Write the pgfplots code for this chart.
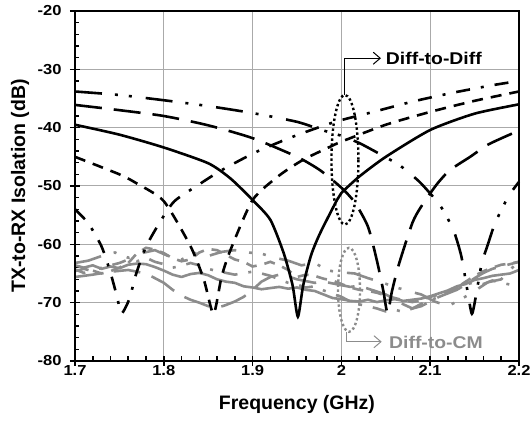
\documentclass[border=0pt]{standalone}
\usepackage{pgfplots}
\pgfplotsset{compat=1.18}
\usepackage{fontspec}
\setmainfont{Liberation Sans}
\newfontfamily\widefont[FakeStretch=1.14]{Liberation Sans}
\usetikzlibrary{arrows.meta}
\definecolor{gcol}{RGB}{140,140,140}
\definecolor{gridc}{RGB}{170,170,170}
\tikzset{
  sdash/.style={dash pattern=on 11pt off 8pt},
  ldash/.style={dash pattern=on 27pt off 12pt},
  ldd/.style={dash pattern=on 14pt off 11pt on 3pt off 11pt},
  lddd/.style={dash pattern=on 27pt off 13pt on 3pt off 11pt on 3pt off 14pt},
  rdot/.style={line width=2.4pt, dash pattern=on 2.4pt off 2.6pt},
}
\begin{document}
\begin{tikzpicture}
\useasboundingbox (0,0) rectangle (531pt,427pt);
\begin{axis}[
  at={(75pt,66pt)}, anchor=south west,
  scale only axis, width=444pt, height=350pt,
  xmin=1.7, xmax=2.2, ymin=-80, ymax=-20,
  xtick={1.7,1.8,1.9,2.0,2.1,2.2},
  xticklabels={1.7,1.8,1.9,2,2.1,2.2},
  ytick={-80,-70,-60,-50,-40,-30,-20},
  yticklabels={-80,-70,-60,-50,-40,-30,-20},
  minor x tick num=4, minor y tick num=4,
  tick pos=left, tick align=inside,
  major tick length=5pt, minor tick length=4.5pt,
  extra x ticks={1.7,1.8,1.9,2.0,2.1,2.2}, extra x tick labels={},
  extra y ticks={-80,-70,-60,-50,-40,-30,-20}, extra y tick labels={},
  extra tick style={grid=none, tick align=outside, major tick length=5pt},
  tick style={black, line width=1.6pt},
  grid=major, major grid style={gridc, line width=1pt},
  axis line style={draw=none},
  tick label style={font=\widefont\fontsize{14.5}{17}\selectfont\bfseries},
  xticklabel style={yshift=-1pt},
  yticklabel style={xshift=-10pt},
  xlabel={Frequency (GHz)}, ylabel={TX-to-RX Isolation (dB)},
  label style={font=\fontsize{19.5}{22}\selectfont\bfseries},
  xlabel style={at={(axis description cs:0.5,-0.14)}, anchor=base},
  ylabel style={at={(axis description cs:-0.1126,0.5)}, anchor=base},
  clip=false,
]
% ---- Diff-to-CM (gray) ----
\addplot[gcol, line width=2.6pt, line join=round] coordinates {
(1.700,-63.6) (1.710,-64.0) (1.720,-63.6) (1.730,-64.2) (1.740,-63.8) (1.750,-64.1)
(1.760,-63.5) (1.770,-63.3) (1.780,-63.4) (1.790,-63.9) (1.800,-64.5) (1.810,-65.2)
(1.820,-65.6) (1.830,-65.1) (1.840,-64.9) (1.850,-65.3) (1.860,-66.0) (1.870,-66.4)
(1.880,-66.6) (1.890,-67.2) (1.900,-67.4) (1.910,-67.7) (1.920,-67.5) (1.930,-67.3)
(1.940,-67.6) (1.950,-67.4) (1.960,-67.8) (1.970,-68.0) (1.980,-68.6) (1.990,-69.2)
(2.000,-69.4) (2.010,-69.7) (2.020,-69.8) (2.030,-69.5) (2.040,-69.9) (2.050,-69.6)
(2.060,-69.4) (2.070,-69.7) (2.080,-69.5) (2.090,-69.3) (2.100,-68.9) (2.110,-68.4)
(2.120,-67.9) (2.130,-67.2) (2.140,-66.8) (2.150,-66.1) (2.160,-65.8) (2.170,-65.4)
(2.180,-65.2) (2.190,-65.0) (2.200,-64.4)};
\addplot[gcol, line width=2.6pt, sdash] coordinates {
(1.700,-64.3) (1.710,-64.9) (1.720,-64.5) (1.730,-65.0) (1.740,-64.6) (1.750,-64.0)
(1.760,-63.2) (1.770,-61.5) (1.780,-60.6) (1.790,-60.9) (1.800,-61.5) (1.810,-62.4)
(1.820,-62.9) (1.830,-62.6) (1.840,-61.4) (1.850,-60.8) (1.860,-61.0) (1.870,-61.8)
(1.880,-62.6) (1.890,-63.0) (1.900,-63.8) (1.910,-63.5) (1.920,-63.0) (1.930,-63.6)
(1.940,-64.4) (1.950,-65.6) (1.960,-65.2) (1.970,-65.4) (1.980,-65.9) (1.990,-66.2)
(2.000,-66.8) (2.010,-67.4) (2.020,-67.8) (2.030,-68.0) (2.040,-68.3) (2.050,-68.8)
(2.060,-69.2) (2.070,-69.6) (2.080,-69.9) (2.090,-69.6) (2.100,-69.0) (2.110,-68.6)
(2.120,-68.1) (2.130,-67.4) (2.140,-66.4) (2.150,-65.4) (2.160,-64.6) (2.170,-64.0)
(2.180,-63.5) (2.190,-63.3) (2.200,-63.0)};
\addplot[gcol, line width=2.6pt, ldash] coordinates {
(1.700,-65.6) (1.720,-65.2) (1.740,-64.7) (1.760,-64.4) (1.780,-65.0) (1.790,-65.8)
(1.800,-66.6) (1.810,-67.8) (1.820,-68.8) (1.830,-69.5) (1.840,-70.0) (1.850,-70.6)
(1.860,-70.9) (1.870,-70.4) (1.880,-69.8) (1.890,-69.0) (1.900,-67.8) (1.910,-66.4)
(1.920,-65.6) (1.930,-65.2) (1.940,-65.5) (1.950,-66.0) (1.960,-66.3) (1.970,-66.6)
(1.980,-66.4) (1.990,-66.7) (2.000,-67.0) (2.010,-67.3) (2.020,-67.1) (2.030,-67.6)
(2.040,-68.1) (2.050,-68.6) (2.060,-69.4) (2.070,-70.3) (2.080,-71.0) (2.090,-70.6)
(2.100,-69.8) (2.110,-69.0) (2.120,-68.4) (2.130,-67.8) (2.140,-66.9) (2.150,-65.8)
(2.160,-64.9) (2.170,-64.2) (2.180,-63.8) (2.190,-63.4) (2.200,-63.0)};
\addplot[gcol, line width=2.6pt, ldd] coordinates {
(1.700,-64.6) (1.710,-64.2) (1.720,-64.6) (1.730,-64.0) (1.740,-63.6) (1.750,-63.2)
(1.760,-62.6) (1.770,-62.9) (1.780,-62.3) (1.790,-63.0) (1.800,-63.4) (1.810,-64.0)
(1.820,-63.7) (1.830,-63.2) (1.840,-63.6) (1.850,-64.2) (1.860,-64.6) (1.870,-64.9)
(1.880,-65.2) (1.890,-64.9) (1.900,-64.7) (1.910,-65.0) (1.920,-65.4) (1.930,-66.0)
(1.940,-66.6) (1.950,-66.9) (1.960,-67.4) (1.970,-67.2) (1.980,-67.9) (1.990,-68.5)
(2.000,-69.0) (2.010,-69.8) (2.020,-70.3) (2.030,-70.6) (2.040,-71.0) (2.050,-71.5)
(2.060,-71.2) (2.070,-71.6) (2.080,-71.0) (2.090,-70.2) (2.100,-69.6) (2.110,-69.0)
(2.120,-68.3) (2.130,-67.6) (2.140,-66.9) (2.150,-66.5) (2.160,-66.8) (2.170,-66.2)
(2.180,-66.6) (2.190,-66.9) (2.200,-66.3)};
\addplot[gcol, line width=2.6pt, lddd] coordinates {
(1.700,-63.2) (1.715,-62.8) (1.730,-62.0) (1.745,-61.4) (1.760,-62.3) (1.775,-61.5)
(1.790,-61.0) (1.805,-62.0) (1.820,-62.6) (1.835,-61.5) (1.850,-62.0) (1.865,-61.3)
(1.880,-61.0) (1.895,-61.4) (1.910,-61.6) (1.925,-62.3) (1.940,-62.8) (1.955,-63.6)
(1.970,-63.2) (1.985,-64.5) (2.000,-64.8) (2.015,-65.0) (2.030,-65.8) (2.045,-66.5)
(2.060,-67.3) (2.075,-68.0) (2.090,-68.6) (2.105,-69.8) (2.120,-70.6) (2.135,-69.4)
(2.150,-68.0) (2.165,-66.5) (2.180,-66.0) (2.200,-62.8)};
% ---- Diff-to-Diff (black) ----
\addplot[black, line width=2.6pt, smooth, tension=0.4] coordinates {
(1.700,-39.5) (1.750,-41.2) (1.800,-43.4) (1.850,-46.1) (1.875,-48.7) (1.900,-52.4)
(1.920,-55.8) (1.935,-61.5) (1.945,-67.0) (1.951,-72.4) (1.957,-67.0) (1.966,-61.8)
(1.976,-58.1) (1.995,-52.4) (2.000,-51.2) (2.020,-48.4) (2.050,-45.0) (2.100,-40.4)
(2.150,-37.6) (2.200,-36.0)};
\addplot[black, line width=2.6pt, sdash, smooth, tension=0.4] coordinates {
(1.700,-45.0) (1.750,-48.0) (1.770,-49.6) (1.800,-52.6) (1.830,-60.3) (1.845,-66.0)
(1.856,-71.9) (1.865,-65.6) (1.875,-61.0) (1.900,-52.4) (1.930,-48.2) (1.957,-45.5)
(1.987,-43.3) (2.000,-42.4) (2.050,-39.5) (2.100,-37.3) (2.150,-35.4) (2.200,-33.8)};
\addplot[black, line width=2.6pt, ldash, smooth, tension=0.4] coordinates {
(1.700,-36.1) (1.750,-37.0) (1.800,-38.0) (1.850,-39.6) (1.900,-41.8) (1.950,-45.0)
(1.976,-47.3) (2.000,-50.3) (2.015,-52.8) (2.030,-57.0) (2.040,-62.8) (2.047,-67.8)
(2.052,-71.8) (2.057,-68.0) (2.065,-63.3) (2.080,-56.3) (2.090,-53.5) (2.107,-49.8)
(2.122,-47.3) (2.145,-45.0) (2.164,-43.0) (2.182,-41.7) (2.200,-40.5)};
\addplot[black, line width=2.6pt, ldd, smooth, tension=0.4] coordinates {
(1.700,-54.0) (1.715,-56.4) (1.730,-60.4) (1.740,-64.9) (1.747,-68.8) (1.752,-71.8)
(1.757,-70.8) (1.762,-69.0) (1.769,-65.0) (1.780,-60.4) (1.796,-56.1) (1.812,-52.6)
(1.839,-49.8) (1.865,-47.3) (1.905,-44.1) (1.948,-41.4) (1.993,-39.0) (2.036,-37.3)
(2.081,-35.5) (2.126,-34.0) (2.171,-32.7) (2.200,-32.0)};
\addplot[black, line width=2.6pt, lddd, smooth, tension=0.4] coordinates {
(1.700,-33.8) (1.750,-34.4) (1.800,-35.3) (1.850,-36.3) (1.900,-37.5) (1.950,-39.0)
(1.978,-40.4) (2.000,-41.4) (2.021,-42.7) (2.049,-45.0) (2.066,-46.5) (2.079,-48.1)
(2.090,-49.6) (2.111,-53.3) (2.126,-57.5) (2.135,-62.0) (2.142,-68.0) (2.147,-71.9)
(2.152,-68.4) (2.158,-63.3) (2.165,-60.0) (2.173,-56.4) (2.188,-51.8) (2.200,-49.3)};
% ---- frame ----
\draw[black, line width=2.4pt] (rel axis cs:0,0) rectangle (rel axis cs:1,1);
% ---- annotations ----
\draw[black, rdot]
  (axis cs:2.004,-45.5) ellipse [x radius=0.0152, y radius=11.1];
\draw[black, line width=1pt, -{Straight Barb[length=7pt,width=12pt]}]
  (axis cs:2.004,-34.4) -- (axis cs:2.004,-28.1) -- (axis cs:2.0446,-28.1);
\node[anchor=west, inner sep=0pt, font=\widefont\fontsize{17}{20}\selectfont\bfseries]
  at (axis cs:2.050,-28.2) {Diff-to-Diff};
\draw[gcol, rdot]
  (axis cs:2.0086,-67.8) ellipse [x radius=0.0124, y radius=7.2];
\draw[gcol, line width=1pt, -{Straight Barb[length=7pt,width=12pt]}]
  (axis cs:2.0063,-75.0) -- (axis cs:2.0063,-76.7) -- (axis cs:2.0454,-76.7);
\node[anchor=west, inner sep=0pt, text=gcol, font=\widefont\fontsize{17}{20}\selectfont\bfseries]
  at (axis cs:2.0536,-76.8) {Diff-to-CM};
\end{axis}
\end{tikzpicture}
\end{document}
